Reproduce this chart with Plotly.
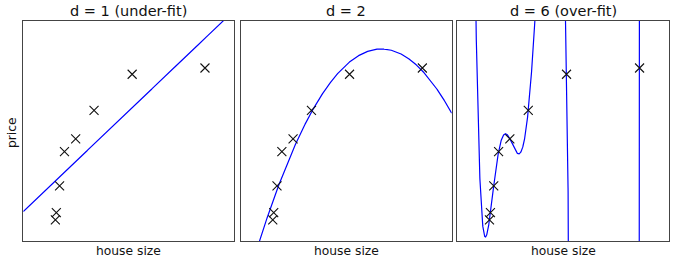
import numpy as np
import plotly.graph_objects as go

# Data (relative units; the axes show no ticks)
house_size = [0.1520, 0.1565, 0.1720, 0.1951, 0.2482, 0.3353, 0.5159, 0.8610]
price = [0.0957, 0.1288, 0.2502, 0.4063, 0.4646, 0.5935, 0.7579, 0.7863]
degrees = [1, 2, 6]
titles = ["d = 1 (under-fit)", "d = 2", "d = 6 (over-fit)"]
x_label = "house size"
y_label = "price"

W, H = 675, 263
x_doms = [(23.3, 234.3), (240.7, 451.7), (457.3, 669.0)]
y_top, y_bot = 21.0, 241.0

fig = go.Figure()
xs = np.array(house_size)
ys = np.array(price)
grid = np.linspace(0, 1, 4000)

layout = dict(
    width=W, height=H,
    margin=dict(l=0, r=0, t=0, b=0),
    paper_bgcolor="white", plot_bgcolor="white",
    showlegend=False,
    font=dict(family="DejaVu Sans", color="#262626"),
)
annotations = []
for i, (d, title) in enumerate(zip(degrees, titles)):
    k = "" if i == 0 else str(i + 1)
    coef = np.polyfit(xs, ys, d)
    curve = np.polyval(coef, grid)
    fig.add_trace(go.Scatter(x=grid, y=curve, mode="lines",
                             line=dict(color="#0000ff", width=1.2),
                             xaxis="x" + k, yaxis="y" + k, hoverinfo="skip"))
    fig.add_trace(go.Scatter(x=house_size, y=price, mode="markers",
                             marker=dict(symbol="x-thin", size=9,
                                         line=dict(color="#111111", width=1.1)),
                             xaxis="x" + k, yaxis="y" + k))
    x0, x1 = x_doms[i]
    ax = dict(showticklabels=False, ticks="", showgrid=False, zeroline=False,
              showline=True, mirror=True, linecolor="#444444", linewidth=1)
    layout["xaxis" + k] = dict(ax, domain=[x0 / W, x1 / W], range=[0, 1],
                               anchor="y" + k)
    layout["yaxis" + k] = dict(ax, domain=[(H - y_bot) / H, (H - y_top) / H],
                               range=[0, 1], anchor="x" + k)
    cx = (x0 + x1) / 2 / W
    annotations.append(dict(text=title, x=cx, y=1 - 11.5 / H, xref="paper",
                            yref="paper", showarrow=False,
                            xanchor="center", yanchor="middle",
                            font=dict(size=14.5, color="#111111")))
    annotations.append(dict(text=x_label, x=cx, y=1 - 250.5 / H,
                            xref="paper", yref="paper", showarrow=False,
                            xanchor="center", yanchor="middle",
                            font=dict(size=12.3, color="#111111")))

annotations.append(dict(text=y_label, x=12 / W, y=1 - 133 / H, xref="paper",
                        yref="paper", showarrow=False, textangle=-90,
                        xanchor="center", yanchor="middle",
                        font=dict(size=12.3, color="#111111")))
layout["annotations"] = annotations
fig.update_layout(**layout)
fig.write_html("out.html")
